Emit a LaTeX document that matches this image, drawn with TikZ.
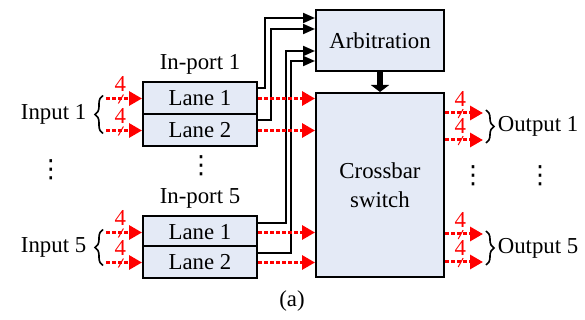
\documentclass[tikz,border=0pt]{standalone}
\usepackage{fontspec}
\setmainfont{Liberation Serif}
\newfontfamily\dotsfont{DejaVu Sans}
\usepackage{tikz}
\usetikzlibrary{arrows.meta,positioning,calc,decorations.pathreplacing,decorations.markings}
\definecolor{lanefill}{RGB}{228,234,246}

\begin{document}
\begin{tikzpicture}[x=0.5pt, y=-0.5pt,
  every node/.style={font=\fontsize{11.4}{14.5}\selectfont},
  lane/.style={rectangle, draw, fill=lanefill, line width=1pt,
               minimum width=57pt, minimum height=16pt, inner sep=0pt},
  unit/.style={rectangle, draw, fill=lanefill, line width=1pt,
               minimum width=64pt, align=center, inner sep=0pt},
  arr/.style={-{Triangle[length=6pt,width=5pt]}, line width=1pt},
  ctl/.style={-{Triangle[length=3.5pt,width=9pt]}, line width=3pt},
  bus/.style={-{Triangle[length=6.5pt,width=7pt]}, red, line width=1.5pt,
              dash pattern=on 2pt off 1pt},
  buswidth/.style={bus, postaction={decorate, decoration={markings,
      mark=at position 0.4 with {
        \draw[red, solid, line width=0.5pt, -] (-1pt,-2.5pt) -- (1.5pt,2pt);
        \node[red, inner sep=0pt, anchor=south] at (0,2.5pt) {4};}}}},
  brc/.style={decorate, decoration={brace, amplitude=4pt}, line width=0.8pt},
  dots/.style={inner sep=0pt, font=\dotsfont\fontsize{12.5}{12.5}\selectfont},
]
  \useasboundingbox (0,0) rectangle (585,320);

  % in-ports
  \node[lane] (p1l1) at (200,98.5) {Lane 1};
  \node[lane] (p1l2) at (200,130.5) {Lane 2};
  \node[above=0pt of p1l1] (p1lbl) {In-port 1};
  \node[lane] (p5l1) at (200,232.5) {Lane 1};
  \node[lane] (p5l2) at (200,262.5) {Lane 2};
  \node[above=0pt of p5l1] (p5lbl) {In-port 5};

  % arbiter and switch
  \node[unit, minimum height=30.5pt] (arb) at (380,40.5) {Arbitration};
  \node[unit, minimum height=92pt] (xbar) at (380,185) {Crossbar\\switch};
  \draw[ctl] (arb) -- (xbar);

  % requests
  \draw[arr] ([yshift=5pt]p1l1.east) -- ++(7,0) |- ([yshift=-4.5pt]arb.north west);
  \draw[arr] ([yshift=5pt]p1l2.east) -- ++(13,0) |- ([yshift=-10pt]arb.north west);
  \draw[arr] ([yshift=4.5pt]p5l1.east) -- ++(28,0) |- ([yshift=-21pt]arb.north west);
  \draw[arr] ([yshift=4.5pt]p5l2.east) -- ++(33,0) |- ([yshift=-26pt]arb.north west);

  % data
  \draw[bus] (p1l1.east) -- (p1l1.east -| xbar.west);
  \draw[bus] (p1l2.east) -- (p1l2.east -| xbar.west);
  \draw[bus] (p5l1.east) -- (p5l1.east -| xbar.west);
  \draw[bus] (p5l2.east) -- (p5l2.east -| xbar.west);

  % inputs
  \draw[buswidth] ([xshift=-18pt]p1l1.west) -- (p1l1.west);
  \draw[buswidth] ([xshift=-18pt]p1l2.west) -- (p1l2.west);
  \draw[buswidth] ([xshift=-18pt]p5l1.west) -- (p5l1.west);
  \draw[buswidth] ([xshift=-18pt]p5l2.west) -- (p5l2.west);
  \draw[brc] ([xshift=-19.5pt,yshift=-1.5pt]p1l2.west) -- ([xshift=-19.5pt,yshift=1.5pt]p1l1.west)
    node[midway, left=8pt, inner sep=0pt] (in1) {Input 1};
  \draw[brc] ([xshift=-19.5pt,yshift=-1.5pt]p5l2.west) -- ([xshift=-19.5pt,yshift=1.5pt]p5l1.west)
    node[midway, left=8pt, inner sep=0pt] (in5) {Input 5};

  % outputs
  \coordinate (o1a) at (483,113);
  \coordinate (o1b) at (483,140);
  \coordinate (o5a) at (483,234);
  \coordinate (o5b) at (483,262);
  \draw[buswidth] (xbar.east |- o1a) -- (o1a);
  \draw[buswidth] (xbar.east |- o1b) -- (o1b);
  \draw[buswidth] (xbar.east |- o5a) -- (o5a);
  \draw[buswidth] (xbar.east |- o5b) -- (o5b);
  \draw[brc] ([xshift=1.5pt,yshift=1.5pt]o1a) -- ([xshift=1.5pt,yshift=-1.5pt]o1b)
    node[midway, right=5.5pt, inner sep=0pt] (out1) {Output 1};
  \draw[brc] ([xshift=1.5pt,yshift=1.5pt]o5a) -- ([xshift=1.5pt,yshift=-1.5pt]o5b)
    node[midway, right=5.5pt, inner sep=0pt] (out5) {Output 5};

  % ellipses
  \node[dots] (dl) at (51,170) {⋮};
  \node[dots] (dm) at (201,166) {⋮};
  \node[dots] (dr1) at (473,176) {⋮};
  \node[dots] (dr2) at (540,176) {⋮};

  \node (cap) at (292,301) {(a)};
\end{tikzpicture}
\end{document}
